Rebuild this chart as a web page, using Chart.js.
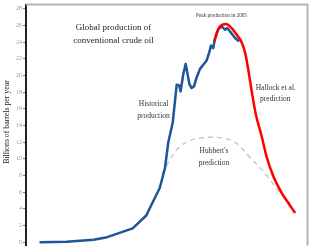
<!DOCTYPE html>
<html>
<head>
<meta charset="utf-8">
<script src="https://cdn.jsdelivr.net/npm/chart.js@4/dist/chart.umd.min.js"></script>
<style>
html,body{margin:0;padding:0;background:#fff;}
canvas{display:block;}
</style>
</head>
<body>
<canvas id="c" width="313" height="250"></canvas>
<script>
// ---- data ----
const histYears = [1881,1899,1917,1926,1943,1952,1961,1964.5,1966.7,1969.6,1972.3,1974,1974.9,1976.7,1978.3,1979.3,1980.7,1982.2,1983.8,1985.6,1987.8,1990,1992.2,1994,1995.1,1996.6,1997.6,2000,2002.2,2004.4,2006,2007.3,2011.1,2013.9];
const histValues = [0,0.05,0.3,0.6,1.65,3.2,6.5,8.9,12.0,14.3,18.9,18.8,18.1,20.2,21.4,20.4,19.0,18.5,18.7,19.8,20.8,21.3,21.8,22.8,23.6,23.3,24.3,25.6,25.9,25.5,25.7,25.4,24.5,24.1];

const hallockYears = [1997.3,1998.9,2001.1,2005.1,2008.9,2012.2,2015.5,2018,2020,2022.5,2025,2029,2032.2,2036.6,2042.2,2046.6,2051.1];
const hallockValues = [24.1,25.1,25.9,26.2,25.7,24.9,24.0,22.6,20.6,17.8,15.3,12.6,10.2,7.9,5.9,4.7,3.5];

const hubbertYears = [1962.5,1972.3,1981.1,1988,1995.6,2003,2010,2014.4,2021,2032.2,2041,2047.7];
const hubbertValues = [8.2,11.1,12.2,12.5,12.6,12.5,12.1,11.5,10.2,8.0,5.9,4.7];

const yTicks = [0,2,4,6,8,10,12,14,16,18,20,22,24,26,28];

const yTitle = 'Billions of barrels per year';
const titleLines = ['Global production of','conventional crude oil'];
const peakLabel = 'Peak production in 2005';
const histLabel = ['Historical','production'];
const hallockLabel = ['Hallock et al.','prediction'];
const hubbertLabel = ["Hubbert's",'prediction'];

const pts = (xs, ys) => xs.map((x, i) => ({x: x, y: ys[i]}));
const SERIF = '"Liberation Serif", "DejaVu Serif", serif';

const framePlugin = {
  id: 'frame',
  beforeDatasetsDraw(chart) {
    const {ctx, chartArea: a} = chart;
    ctx.save();
    ctx.strokeStyle = '#b4b4b4';
    ctx.lineWidth = 2;
    ctx.beginPath();
    ctx.moveTo(a.left, a.top - 0.5);
    ctx.lineTo(a.right + 1, a.top - 0.5);
    ctx.moveTo(a.right + 0.5, a.top - 1);
    ctx.lineTo(a.right + 0.5, a.bottom);
    ctx.stroke();
    ctx.restore();
  }
};

const textPlugin = {
  id: 'texts',
  afterDraw(chart) {
    const ctx = chart.ctx;
    ctx.save();
    ctx.textAlign = 'center';
    ctx.textBaseline = 'middle';
    ctx.fillStyle = '#222';
    ctx.font = '9px ' + SERIF;
    ctx.fillText(titleLines[0], 113.5, 27.5);
    ctx.fillText(titleLines[1], 113.5, 41);
    ctx.fillStyle = '#333';
    ctx.font = '5.2px ' + SERIF;
    ctx.fillText(peakLabel, 221.5, 16);
    ctx.font = '7.5px ' + SERIF;
    ctx.fillText(histLabel[0], 153.5, 104.5);
    ctx.fillText(histLabel[1], 153.5, 116);
    ctx.fillText(hallockLabel[0], 275.8, 88);
    ctx.fillText(hallockLabel[1], 275.3, 99.2);
    ctx.fillText(hubbertLabel[0], 214, 151);
    ctx.fillText(hubbertLabel[1], 214, 162.7);
    // y axis title
    ctx.translate(7, 122);
    ctx.rotate(-Math.PI / 2);
    ctx.fillStyle = '#222';
    ctx.font = '7.8px ' + SERIF;
    ctx.fillText(yTitle, 0, 0);
    ctx.restore();
  }
};

new Chart(document.getElementById('c'), {
  type: 'line',
  data: {
    datasets: [
      {
        label: "Hubbert's prediction",
        data: pts(hubbertYears, hubbertValues),
        borderColor: '#c4c4c4',
        borderWidth: 1.3,
        borderDash: [5, 4],
        pointRadius: 0,
        tension: 0.4,
        fill: false,
        order: 3
      },
      {
        label: 'Historical production',
        data: pts(histYears, histValues),
        borderColor: '#1d5599',
        borderWidth: 2.5,
        pointRadius: 0,
        tension: 0,
        borderJoinStyle: 'round',
        fill: false,
        order: 2
      },
      {
        label: 'Hallock et al. prediction',
        data: pts(hallockYears, hallockValues),
        borderColor: '#ff0000',
        borderWidth: 2.5,
        pointRadius: 0,
        cubicInterpolationMode: 'monotone',
        fill: false,
        order: 1
      }
    ]
  },
  options: {
    responsive: false,
    devicePixelRatio: 1,
    animation: false,
    layout: {padding: {left: 0, top: 5, right: 6, bottom: 0}},
    plugins: {legend: {display: false}, tooltip: {enabled: false}},
    scales: {
      x: {type: 'linear', min: 1872, max: 2059, display: false},
      y: {
        min: -0.39,
        max: 28.47,
        afterBuildTicks: s => { s.ticks = yTicks.map(v => ({value: v})); },
        afterFit: s => { s.width = 26; },
        ticks: {font: {family: SERIF, size: 6}, color: '#999', padding: 1},
        grid: {drawOnChartArea: false, drawTicks: true, tickLength: 3, color: '#777', tickWidth: 1},
        border: {display: true, color: '#222', width: 2}
      }
    }
  },
  plugins: [framePlugin, textPlugin]
});
</script>
</body>
</html>
